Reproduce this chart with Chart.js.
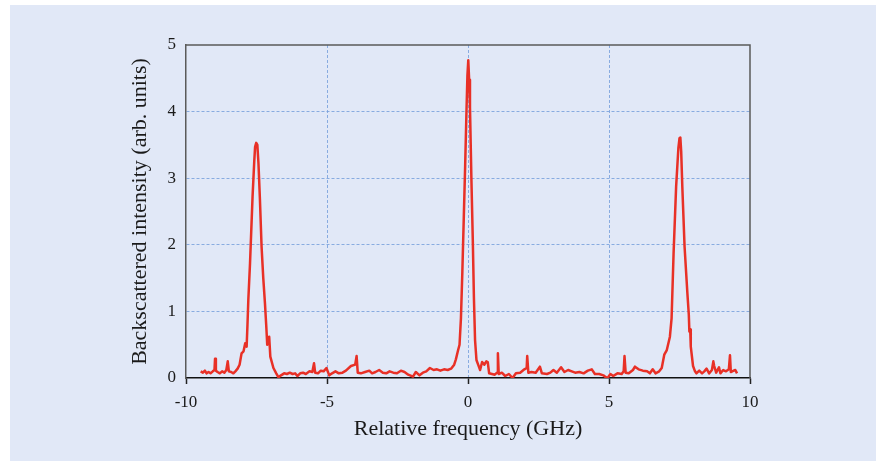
<!DOCTYPE html>
<html>
<head>
<meta charset="utf-8">
<script src="https://cdn.jsdelivr.net/npm/chart.js@4"></script>
<style>
  html, body { margin: 0; padding: 0; background: #fff; }
  #panel { position: absolute; left: 10px; top: 5px; width: 866px; height: 456px; background: rgb(225,232,247); }
  #chart { position: absolute; left: 0; top: 0; }
</style>
</head>
<body>
<div id="panel"></div>
<canvas id="chart" width="885" height="465"></canvas>
<script>
// relative frequency (GHz) and backscattered intensity
const freq = [
  -9.48, -9.40, -9.33, -9.27, -9.20, -9.13, -9.05, -8.99, -8.97, -8.94,
  -8.88, -8.80, -8.72, -8.64, -8.57, -8.52, -8.48, -8.40, -8.32, -8.25,
  -8.17, -8.10, -8.03, -7.96, -7.90, -7.85, -7.82, -7.79, -7.73, -7.64,
  -7.58, -7.55, -7.51, -7.47, -7.43, -7.38, -7.32, -7.26, -7.20, -7.15,
  -7.12, -7.07, -7.05, -7.01, -6.90, -6.80,
  -6.72, -6.63, -6.52, -6.42, -6.32, -6.22, -6.13, -6.05, -5.95, -5.85,
  -5.75, -5.62, -5.52, -5.46, -5.42, -5.32, -5.22, -5.12, -5.02, -4.92,
  -4.82, -4.70, -4.58, -4.45, -4.33, -4.15, -4.00, -3.95, -3.91, -3.80,
  -3.65, -3.50, -3.40, -3.28, -3.15, -3.02, -2.90, -2.78, -2.65, -2.52,
  -2.38, -2.25, -2.12, -1.95, -1.85, -1.72, -1.60, -1.48, -1.35, -1.22,
  -1.10, -0.98, -0.85, -0.72, -0.60, -0.49, -0.43, -0.35, -0.30, -0.25,
  -0.20, -0.15, -0.10, -0.05, -0.02, 0.01, 0.04, 0.07, 0.12, 0.17,
  0.21, 0.25, 0.30, 0.36,
  0.43, 0.50, 0.58, 0.65, 0.70, 0.75, 0.85, 0.95, 1.03, 1.06,
  1.09, 1.20, 1.32, 1.45, 1.58, 1.70, 1.85, 2.00, 2.08, 2.10,
  2.14, 2.25, 2.40, 2.55, 2.62, 2.80, 2.92, 3.03, 3.15, 3.30,
  3.42, 3.55, 3.68, 3.80, 3.95, 4.10, 4.25, 4.39, 4.50, 4.65,
  4.80, 4.86, 4.95, 5.05, 5.15, 5.30, 5.45, 5.52, 5.55, 5.59,
  5.70, 5.85, 5.92, 6.05, 6.20, 6.35, 6.45, 6.55, 6.65, 6.78,
  6.87, 6.96, 7.05, 7.16, 7.22, 7.29, 7.38, 7.46, 7.50, 7.53,
  7.56, 7.60, 7.68, 7.78, 7.83, 7.85, 7.88, 7.90, 7.98, 8.05,
  8.10, 8.20, 8.30, 8.38, 8.46, 8.55, 8.65, 8.70, 8.73, 8.80,
  8.90, 8.95, 9.05, 9.15, 9.25, 9.29, 9.32, 9.42, 9.48, 9.54
];
const intensity = [
  0.10, 0.08, 0.11, 0.07, 0.09, 0.07, 0.10, 0.12, 0.29, 0.11,
  0.09, 0.07, 0.10, 0.08, 0.12, 0.25, 0.10, 0.09, 0.07, 0.10,
  0.14, 0.20, 0.37, 0.40, 0.52, 0.47, 0.80, 1.17, 1.72, 2.72,
  3.25, 3.47, 3.53, 3.50, 3.22, 2.70, 1.97, 1.50, 1.12, 0.75,
  0.50, 0.55, 0.62, 0.32, 0.15, 0.07,
  0.01, 0.04, 0.07, 0.06, 0.08, 0.06, 0.07, 0.03, 0.07, 0.08,
  0.06, 0.10, 0.09, 0.22, 0.08, 0.07, 0.11, 0.10, 0.15, 0.04,
  0.07, 0.10, 0.07, 0.08, 0.11, 0.18, 0.20, 0.33, 0.08, 0.07,
  0.09, 0.11, 0.07, 0.09, 0.12, 0.08, 0.07, 0.10, 0.08, 0.07,
  0.11, 0.09, 0.05, 0.02, 0.09, 0.04, 0.08, 0.10, 0.15, 0.12,
  0.13, 0.11, 0.13, 0.12, 0.14, 0.20, 0.28, 0.42, 0.50, 0.90,
  1.60, 2.40, 3.20, 4.07, 4.55, 4.77, 4.48, 4.07, 3.00, 2.07,
  1.20, 0.57, 0.27, 0.20,
  0.12, 0.24, 0.20, 0.25, 0.24, 0.07, 0.06, 0.05, 0.08, 0.37,
  0.06, 0.08, 0.03, 0.06, 0.00, 0.07, 0.08, 0.13, 0.15, 0.33,
  0.08, 0.09, 0.08, 0.17, 0.07, 0.06, 0.08, 0.12, 0.08, 0.16,
  0.09, 0.12, 0.10, 0.08, 0.09, 0.07, 0.11, 0.13, 0.06, 0.06,
  0.04, 0.02, 0.00, 0.06, 0.03, 0.07, 0.06, 0.10, 0.33, 0.08,
  0.07, 0.12, 0.17, 0.13, 0.11, 0.10, 0.07, 0.13, 0.07, 0.10,
  0.15, 0.35, 0.42, 0.62, 0.90, 1.87, 2.87, 3.45, 3.60, 3.61,
  3.40, 2.87, 1.97, 1.27, 0.95, 0.70, 0.73, 0.47, 0.18, 0.10,
  0.07, 0.11, 0.07, 0.10, 0.14, 0.07, 0.12, 0.25, 0.18, 0.08,
  0.16, 0.07, 0.12, 0.10, 0.13, 0.34, 0.09, 0.11, 0.12, 0.07
];
const xTicks = [-10, -5, 0, 5, 10];
const yTicks = [0, 1, 2, 3, 4, 5];

const textColor = '#1a1a1a';
const gridColor = 'rgba(120,160,220,0.85)';
const serif = '"Liberation Serif", "Times New Roman", serif';

// top and right edges of the plot box
const framePlugin = {
  id: 'frame',
  afterDraw(chart) {
    const { ctx, chartArea: a } = chart;
    ctx.save();
    ctx.strokeStyle = '#5a5a5a';
    ctx.lineWidth = 1.5;
    ctx.beginPath();
    ctx.moveTo(a.left, a.top);
    ctx.lineTo(a.right, a.top);
    ctx.lineTo(a.right, a.bottom);
    ctx.stroke();
    ctx.restore();
  }
};

const points = freq.map((f, i) => ({ x: f, y: intensity[i] }));

new Chart(document.getElementById('chart'), {
  type: 'line',
  data: {
    datasets: [{
      data: points,
      borderColor: 'rgb(232,48,38)',
      borderWidth: 2.5,
      borderJoinStyle: 'round',
      pointRadius: 0,
      tension: 0,
      fill: false
    }]
  },
  options: {
    responsive: false,
    animation: false,
    layout: { padding: { left: 127, right: 135, top: 45, bottom: 0 } },
    plugins: { legend: { display: false }, tooltip: { enabled: false } },
    scales: {
      x: {
        type: 'linear',
        min: -10, max: 10,
        afterFit: s => { s.height = 87; },
        afterBuildTicks: s => { s.ticks = xTicks.map(v => ({ value: v })); },
        ticks: { color: textColor, font: { family: serif, size: 17 }, padding: 8, maxRotation: 0 },
        grid: {
          color: c => (c.tick && (c.tick.value === -10 || c.tick.value === 10)) ? 'rgba(0,0,0,0)' : gridColor,
          lineWidth: 1,
          tickColor: '#222',
          tickLength: 6,
          tickWidth: 1.5
        },
        border: { display: true, color: '#111', width: 1.5, dash: [3, 2] },
        title: {
          display: true,
          text: 'Relative frequency (GHz)',
          color: textColor,
          font: { family: serif, size: 22 },
          padding: { top: 0, bottom: 23 }
        }
      },
      y: {
        min: 0, max: 5,
        afterFit: s => { s.width = 59; },
        afterBuildTicks: s => { s.ticks = yTicks.map(v => ({ value: v })); },
        ticks: { color: textColor, font: { family: serif, size: 17 }, padding: 10 },
        grid: {
          color: c => (c.tick && (c.tick.value === 0 || c.tick.value === 5)) ? 'rgba(0,0,0,0)' : gridColor,
          lineWidth: 1,
          drawTicks: false
        },
        border: { display: true, color: '#5a5a5a', width: 1.5, dash: [3, 2] },
        title: {
          display: true,
          text: 'Backscattered intensity (arb. units)',
          color: textColor,
          font: { family: serif, size: 22 },
          padding: { top: 0, bottom: 0 }
        }
      }
    }
  },
  plugins: [framePlugin]
});
</script>
</body>
</html>
